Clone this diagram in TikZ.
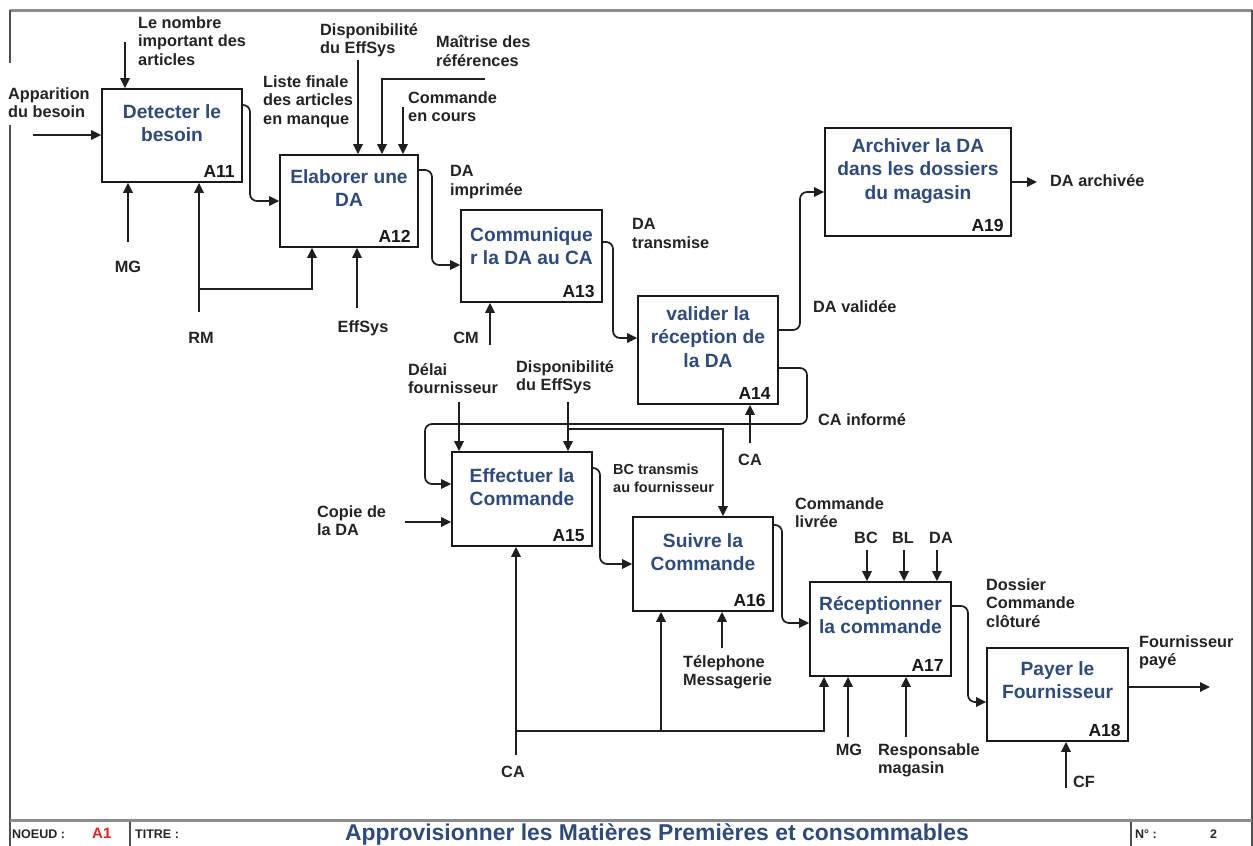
\documentclass[tikz,border=0pt]{standalone}
\usepackage{fontspec}
\setmainfont{Liberation Sans}
\usetikzlibrary{arrows.meta}
\definecolor{boxblue}{RGB}{47,75,122}
\definecolor{labelgray}{RGB}{35,35,35}
\definecolor{framegray}{RGB}{140,140,140}
\definecolor{framedark}{RGB}{80,80,80}
\definecolor{nodered}{RGB}{230,30,30}

\begin{document}
\begin{tikzpicture}[x=1pt,y=-1pt,
  proc/.style={draw=black!90, line width=1.8pt, inner sep=0pt, fill=white},
  ptitle/.style={anchor=north, inner sep=0pt, align=center, text=boxblue,
    font=\fontsize{19.2}{23.5}\selectfont\bfseries},
  pnum/.style={anchor=south east, inner sep=0pt, text=black!90,
    font=\fontsize{17.5}{20}\selectfont\bfseries},
  lbl/.style={anchor=north west, inner sep=0pt, align=left, text=labelgray,
    font=\fontsize{16.3}{18.7}\selectfont\bfseries},
  lblc/.style={anchor=base, inner sep=0pt, text=labelgray,
    font=\fontsize{16.3}{18.7}\selectfont\bfseries},
  lblsmall/.style={lbl, font=\fontsize{14.5}{18}\selectfont\bfseries},
  foot/.style={anchor=base west, inner sep=0pt, text=black!85,
    font=\fontsize{12.5}{14}\selectfont\bfseries},
  arr/.style={line width=1.7pt, draw=black!88, -{Triangle[length=10pt,width=9.5pt]}},
  flow/.style={arr, rounded corners=7pt},
]
\useasboundingbox (0,0) rectangle (1253,846);

% ---------- frame and footer ----------
\draw[framegray, line width=3pt] (10,10) -- (1252,10);
\draw[framedark, line width=2pt] (10,10) -- (10,63) (10,125) -- (10,846);
\draw[framedark, line width=2pt] (1252,10) -- (1252,846);
\draw[framegray, line width=3pt] (10,820) -- (1252,820);
\draw[framedark, line width=1.8pt] (130,821.5) -- (130,846) (1131,821.5) -- (1131,846);

\node[foot] (fnoeud) at (12,838) {NOEUD :};
\node[foot, text=nodered, font=\fontsize{15}{16}\selectfont\bfseries] (fnum) at (92,838) {A1};
\node[foot] (ftitre) at (135,838) {TITRE :};
\node[anchor=base, inner sep=0pt, text=boxblue, font=\fontsize{22.9}{24}\selectfont\bfseries]
  (ftitle) at (657,840) {Approvisionner les Matières Premières et consommables};
\node[foot] (fno) at (1135,838) {N° :};
\node[foot] (fpage) at (1210,838) {2};

% ---------- activity boxes ----------
\node[proc, minimum width=140pt, minimum height=93pt]  (a11) at (172,135.5) {};
\node[proc, minimum width=138pt, minimum height=92pt]  (a12) at (349,201) {};
\node[proc, minimum width=141pt, minimum height=92pt]  (a13) at (531.5,256) {};
\node[proc, minimum width=140pt, minimum height=108pt] (a14) at (708,350) {};
\node[proc, minimum width=186pt, minimum height=108pt] (a19) at (918,182) {};
\node[proc, minimum width=140pt, minimum height=94pt]  (a15) at (522,499) {};
\node[proc, minimum width=140pt, minimum height=94pt]  (a16) at (703,564) {};
\node[proc, minimum width=141pt, minimum height=94pt]  (a17) at (880.5,629) {};
\node[proc, minimum width=141pt, minimum height=93pt]  (a18) at (1057.5,694.5) {};

\node[ptitle] (t11) at (172,104) {Detecter le\\besoin};
\node[ptitle] (t12) at (349,169) {Elaborer une\\DA};
\node[ptitle] (t13) at (531.5,227) {Communique\\r la DA au CA};
\node[ptitle] (t14) at (708,306) {valider la\\réception de\\la DA};
\node[ptitle] (t19) at (918,138) {Archiver la DA\\dans les dossiers\\du magasin};
\node[ptitle] (t15) at (522,468) {Effectuer la\\Commande};
\node[ptitle] (t16) at (703,533) {Suivre la\\Commande};
\node[ptitle] (t17) at (880.5,596) {Réceptionner\\la commande};
\node[ptitle] (t18) at (1057.5,661) {Payer le\\Fournisseur};

\foreach \b/\n in {a11/A11,a12/A12,a13/A13,a14/A14,a19/A19,a15/A15,a16/A16,a17/A17,a18/A18}
  \node[pnum] (n\b) at ([xshift=-8pt,yshift=5.5pt]\b.south east) {\n};

% ---------- A11 ----------
\coordinate (srcApp) at (33,135);
\draw[arr] (srcApp) -- (srcApp -| a11.west);
\node[lbl] (lApp) at (8,87) {Apparition\\du besoin};

\coordinate (srcNombre) at (125,42);
\draw[arr] (srcNombre) -- (srcNombre |- a11.north);
\node[lbl] (lNombre) at (138,16) {Le nombre\\important des\\articles};

\coordinate (srcMG1) at (128,242);
\draw[arr] (srcMG1) -- (srcMG1 |- a11.south);
\node[lblc] (lMG1) at (128,272) {MG};

\coordinate (srcRM) at (199,312);
\coordinate (splitRM) at (199,289);
\draw[arr] (srcRM) -- (srcRM |- a11.south);
\draw[arr] (splitRM) -- (312,289) -- (312,0 |- a12.south);
\node[lblc] (lRM) at (201,343) {RM};

\draw[flow] (a11.east |- 0,105) -- (250,105) -- (250,201) -- (a12.west);
\node[lbl] (lListe) at (263,75) {Liste finale\\des articles\\en manque};

% ---------- A12 ----------
\coordinate (srcDispo1) at (358,60);
\draw[arr] (srcDispo1) -- (srcDispo1 |- a12.north);
\node[lbl] (lDispo1) at (320,23) {Disponibilité\\du EffSys};

\coordinate (srcMaitrise) at (485,79);
\draw[arr] (srcMaitrise) -- (382,79) -- (382,0 |- a12.north);
\node[lbl] (lMaitrise) at (436,35) {Maîtrise des\\références};

\coordinate (srcCmd) at (403,107);
\draw[arr] (srcCmd) -- (srcCmd |- a12.north);
\node[lbl] (lCmd) at (408,91) {Commande\\en cours};

\coordinate (srcEff1) at (357,308);
\draw[arr] (srcEff1) -- (srcEff1 |- a12.south);
\node[lblc] (lEff1) at (363,332) {EffSys};

\draw[flow] (a12.east |- 0,170) -- (432,170) -- (432,265) -- (a13.west |- 0,265);
\node[lbl] (lImpr) at (450,165) {DA\\imprimée};

% ---------- A13 ----------
\coordinate (srcCM) at (490,345);
\draw[arr] (srcCM) -- (srcCM |- a13.south);
\node[lblc] (lCM) at (466,343) {CM};

\draw[flow] (a13.east |- 0,242) -- (613,242) -- (613,338) -- (a14.west |- 0,338);
\node[lbl] (lTrans) at (632,218) {DA\\transmise};

% ---------- A14 / A19 ----------
\draw[flow] (a14.east |- 0,330) -- (800,330) -- (800,192) -- (a19.west |- 0,192);
\node[lbl] (lValid) at (813,300) {DA validée};

\coordinate (dstArch) at (1037,182);
\draw[arr] (a19.east) -- (dstArch);
\node[lbl] (lArch) at (1050,174) {DA archivée};

\coordinate (srcCA1) at (750,443);
\draw[arr] (srcCA1) -- (srcCA1 |- a14.south);
\node[lblc] (lCA1) at (750,465) {CA};

\draw[flow] (a14.east |- 0,368) -- (807,368) -- (807,424) -- (425,424) -- (425,484) -- (a15.west |- 0,484);
\node[lbl] (lInforme) at (818,413) {CA informé};

% ---------- A15 ----------
\coordinate (srcDelai) at (459,402);
\draw[arr] (srcDelai) -- (srcDelai |- a15.north);
\node[lbl] (lDelai) at (408,363) {Délai\\fournisseur};

\coordinate (srcDispo2) at (568,402);
\coordinate (splitDispo2) at (568,429);
\draw[arr] (srcDispo2) -- (srcDispo2 |- a15.north);
\draw[arr] (splitDispo2) -- (723,429) -- (723,0 |- a16.north);
\node[lbl] (lDispo2) at (516,360) {Disponibilité\\du EffSys};

\coordinate (srcCopie) at (405,522);
\draw[arr] (srcCopie) -- (srcCopie -| a15.west);
\node[lbl] (lCopie) at (317,505) {Copie de\\la DA};

\draw[flow] (a15.east |- 0,468) -- (600,468) -- (600,564) -- (a16.west);
\node[lblsmall] (lBC) at (613,464) {BC transmis\\au fournisseur};

\coordinate (srcCA2) at (516,755);
\coordinate (splitCA2) at (516,731);
\coordinate (splitCA3) at (661,731);
\draw[arr] (srcCA2) -- (srcCA2 |- a15.south);
\draw[arr] (splitCA2) -- (824,731) -- (824,0 |- a17.south);
\draw[arr] (splitCA3) -- (splitCA3 |- a16.south);
\node[lblc] (lCA2) at (513,777) {CA};

% ---------- A16 ----------
\coordinate (srcTel) at (722,648);
\draw[arr] (srcTel) -- (srcTel |- a16.south);
\node[lbl] (lTel) at (683,655) {Télephone\\Messagerie};

\draw[flow] (a16.east |- 0,525) -- (782,525) -- (782,623) -- (a17.west |- 0,623);
\node[lbl] (lLivree) at (795,497) {Commande\\livrée};

% ---------- A17 ----------
\coordinate (srcBC) at (867,550);
\coordinate (srcBL) at (904,550);
\coordinate (srcDA) at (937,550);
\draw[arr] (srcBC) -- (srcBC |- a17.north);
\draw[arr] (srcBL) -- (srcBL |- a17.north);
\draw[arr] (srcDA) -- (srcDA |- a17.north);
\node[lblc] (lBC2) at (866,543) {BC};
\node[lblc] (lBL) at (903,543) {BL};
\node[lblc] (lDA) at (941,543) {DA};

\coordinate (srcMG2) at (848,737);
\draw[arr] (srcMG2) -- (srcMG2 |- a17.south);
\node[lblc] (lMG2) at (849,755) {MG};

\coordinate (srcResp) at (906,737);
\draw[arr] (srcResp) -- (srcResp |- a17.south);
\node[lbl] (lResp) at (878,743) {Responsable\\magasin};

\draw[flow] (a17.east |- 0,606) -- (968,606) -- (968,702) -- (a18.west |- 0,702);
\node[lbl] (lDossier) at (986,578) {Dossier\\Commande\\clôturé};

% ---------- A18 ----------
\coordinate (dstPaye) at (1210,687);
\draw[arr] (a18.east |- dstPaye) -- (dstPaye);
\node[lbl] (lPaye) at (1139,635) {Fournisseur\\payé};

\coordinate (srcCF) at (1066,788);
\draw[arr] (srcCF) -- (srcCF |- a18.south);
\node[lblc] (lCF) at (1084,787) {CF};

\end{tikzpicture}
\end{document}
